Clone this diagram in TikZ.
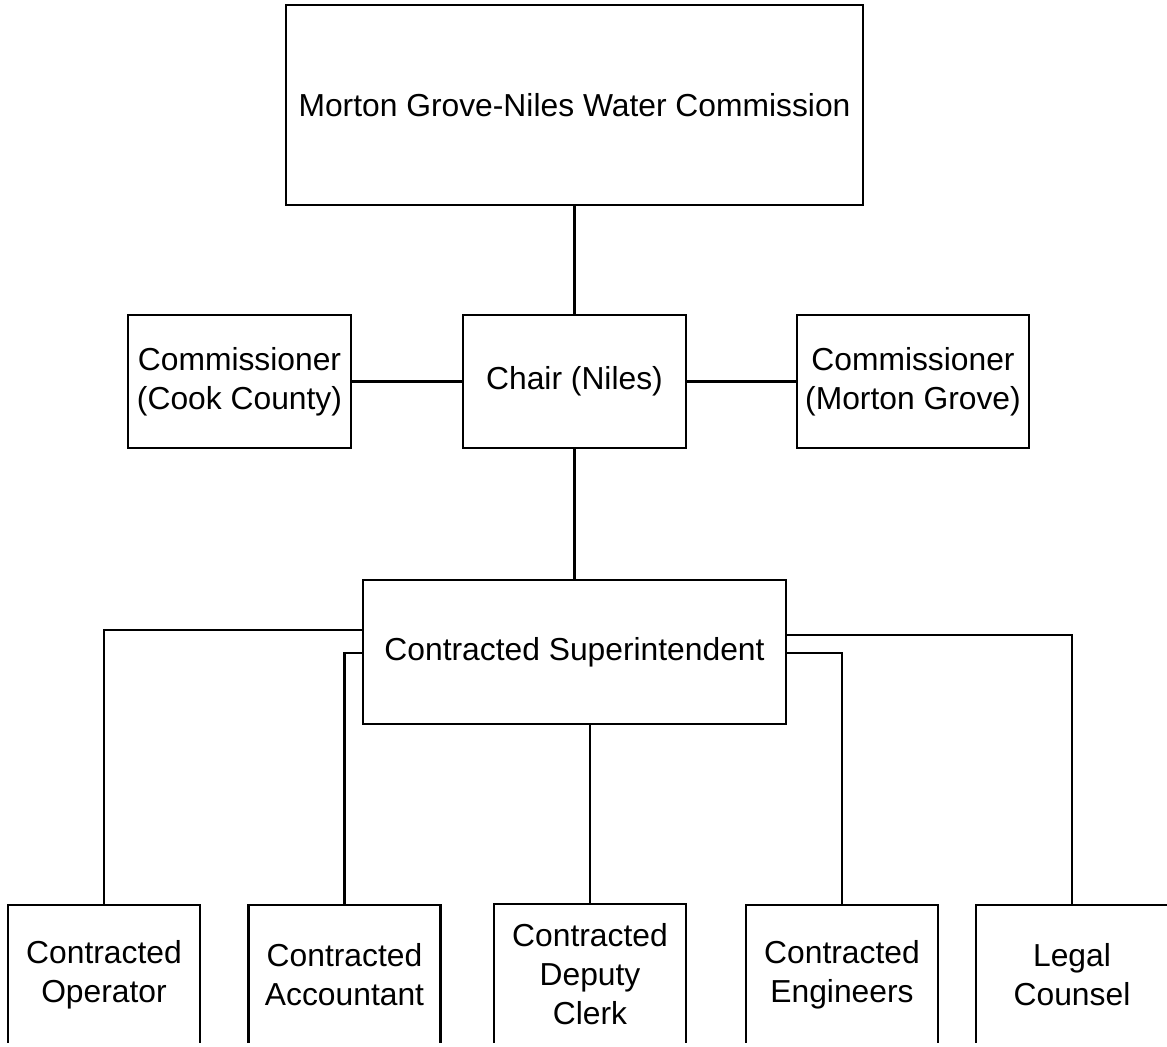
\documentclass[tikz,border=0pt]{standalone}
\usepackage{fontspec}
\setmainfont{Liberation Sans}
\usetikzlibrary{calc}

\begin{document}
\begin{tikzpicture}[x=0.02cm,y=-0.02cm,line width=1.3pt]
\tikzstyle{org box}=[rectangle,draw,align=center,inner sep=0pt,font=\fontsize{18.1}{22.2}\selectfont]
\tikzstyle{link}=[draw,line width=1.3pt]

\tikzset{
	board node/.style={org box,minimum width=11.54cm,minimum height=4cm},
	member node/.style={org box,minimum width=4.46cm,minimum height=2.66cm},
	staff node/.style={org box,minimum width=3.84cm,minimum height=2.8cm}
}

\useasboundingbox (0,0) rectangle (1167,1047);
\clip (0,0) rectangle (1167,1042.5);

    \node[board node] (wc) at (574.5,105) {Morton Grove-Niles Water Commission};
    \node[member node] (chair) at (574.5,381.5) {Chair (Niles)};
    \node[member node] (cook) at (239.5,381.5) {Commissioner\\(Cook County)};
    \node[member node,minimum width=4.64cm] (mg) at (913,381.5) {Commissioner\\(Morton Grove)};
    \node[org box,minimum width=8.46cm,minimum height=2.88cm] (sup) at (574.5,652) {Contracted Superintendent};

    \node[staff node] (op) at (104,975) {Contracted\\Operator};
    \node[staff node] (acc) at (344.5,975) {Contracted\\Accountant};
    \node[staff node] (clerk) at (590,974) {Contracted\\Deputy\\Clerk};
    \node[staff node] (eng) at (842,975) {Contracted\\Engineers};
    \node[staff node] (legal) at (1072,975) {Legal\\Counsel};

    \path[link] (wc) -- (chair)
		(chair) -- (cook)
		(chair) -- (mg)
		(chair) -- (sup);
    \path[link] ($(sup.west)+(0,-22)$) -| (op.north)
		($(sup.west)+(0,1)$) -| (acc.north)
		(clerk.north |- sup.south) -- (clerk.north)
		($(sup.east)+(0,1)$) -| (eng.north)
		($(sup.east)+(0,-17)$) -| (legal.north);
\end{tikzpicture}
\end{document}
